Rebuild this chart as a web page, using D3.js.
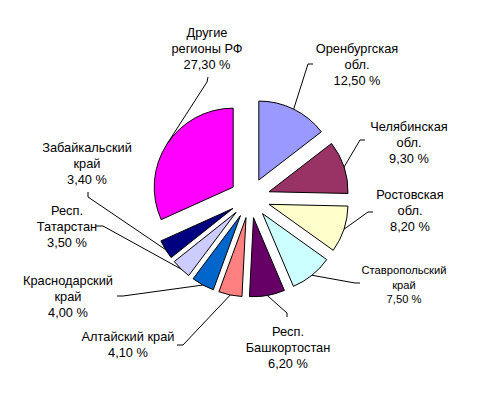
<!DOCTYPE html>
<html><head><meta charset="utf-8">
<script src="https://cdn.jsdelivr.net/npm/d3@7"></script>
<style>body{margin:0;background:#fff}svg{display:block}text{font-family:"Liberation Sans",Arial,sans-serif;fill:#000}</style>
</head><body>
<script>
const categories = ["Оренбургская\nобл.", "Челябинская\nобл.", "Ростовская\nобл.", "Ставропольский\nкрай", "Респ.\nБашкортостан", "Алтайский край", "Краснодарский\nкрай", "Респ.\nТатарстан", "Забайкальский\nкрай", "Другие\nрегионы РФ"];
const values = [12.5, 9.3, 8.2, 7.5, 6.2, 4.1, 4.0, 3.5, 3.4, 27.3];
const valueLabels = ["12,50 %", "9,30 %", "8,20 %", "7,50 %", "6,20 %", "4,10 %", "4,00 %", "3,50 %", "3,40 %", "27,30 %"];
const colors = ["#9999FF", "#993366", "#FFFFCC", "#CCFFFF", "#660066", "#FF8080", "#0066CC", "#CCCCFF", "#000080", "#FF00FF"];

// layout: label anchor (x, first baseline), font size, leader elbow/end
const labelPos = [[357,53],[409,131],[410,199],[404,274],[288,336],[128,341],[68,285],[67,215],[87,152],[207,37]];
const labelSize = [12.8,12.8,12.8,11.2,12.8,12.8,12.8,12.8,12.8,12.8];
const leaders = [
  [[308,64],[313,64]], [[360,140],[365,140]], [[368,212],[373,212]], [[355,283],[360,283]],
  [[287,313],[287,317]], [[183,345],[177,345]], [[123,296],[117,296]], [[103,226],[96,226]],
  [[88,197],[88,192]], [[207,82],[208,77]]
];

const W = 504, H = 399, cx = 250, cy = 198, R = 79, explode = 20;
const svg = d3.select("body").append("svg").attr("width", W).attr("height", H);
const pie = d3.pie().sort(null).value(d => d)(values);
const arc = d3.arc().innerRadius(0).outerRadius(R);
const g = svg.append("g").attr("transform", `translate(${cx},${cy})`);

pie.forEach((p, i) => {
  const a = (p.startAngle + p.endAngle) / 2;
  const dx = Math.sin(a) * explode, dy = -Math.cos(a) * explode;
  g.append("path").attr("d", arc(p)).attr("transform", `translate(${dx},${dy})`)
    .attr("fill", colors[i]).attr("stroke", "#000").attr("stroke-width", 1);
});

pie.forEach((p, i) => {
  const a = (p.startAngle + p.endAngle) / 2;
  const sx = cx + Math.sin(a) * (explode + R), sy = cy - Math.cos(a) * (explode + R);
  const pts = [[sx, sy], ...leaders[i]];
  svg.append("path").attr("d", d3.line()(pts)).attr("fill", "none").attr("stroke", "#000").attr("stroke-width", 1);
});

categories.forEach((c, i) => {
  const lines = c.split("\n").concat([valueLabels[i]]);
  const fs = labelSize[i], lh = fs < 12 ? 14.5 : 16;
  const t = svg.append("text").attr("text-anchor", "middle").attr("font-size", fs + "px");
  lines.forEach((l, k) => {
    t.append("tspan").attr("x", labelPos[i][0]).attr("y", labelPos[i][1] + k * lh).text(l);
  });
});
</script>
</body></html>
